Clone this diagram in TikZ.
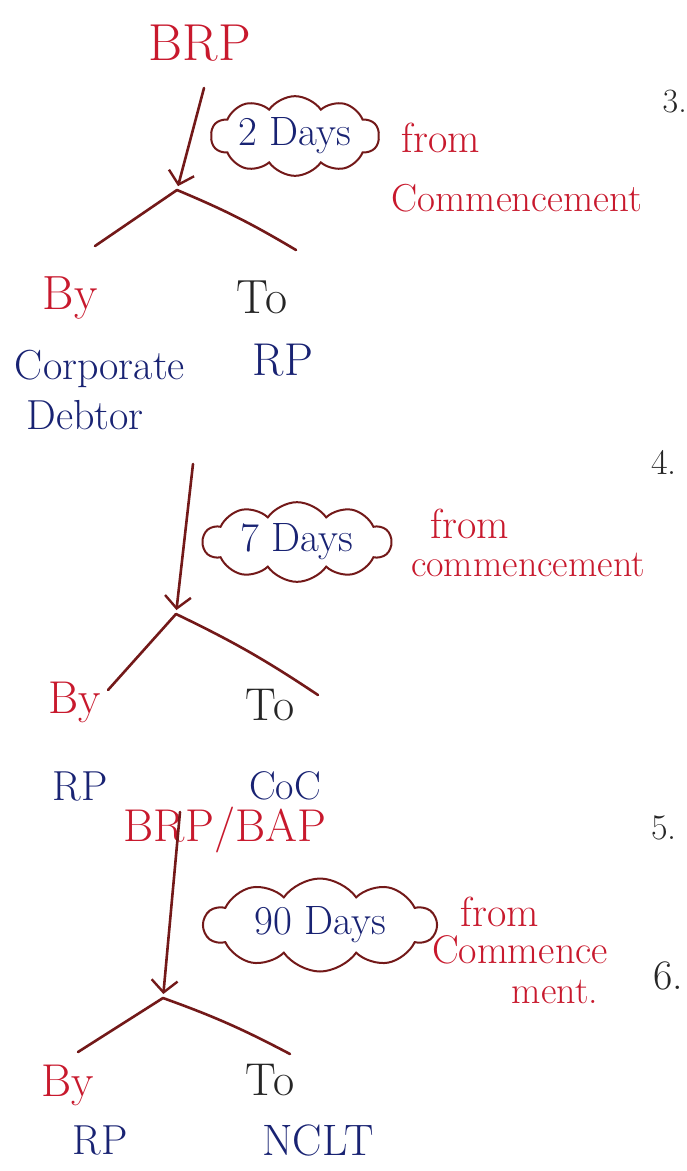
\documentclass[tikz,border=0pt]{standalone}
\usetikzlibrary{arrows.meta,shapes.symbols}

\definecolor{inkred}{RGB}{200,25,45}
\definecolor{inkblue}{RGB}{25,35,115}
\definecolor{inkline}{RGB}{115,25,25}

\begin{document}
\begin{tikzpicture}[x=1pt,y=-1pt,
        fs/.style={font=\fontsize{#1}{#1}\selectfont},
        redtxt/.style={text=inkred,inner sep=2pt},
        bluetxt/.style={text=inkblue,inner sep=2pt},
        blacktxt/.style={text=black!85,inner sep=2pt},
        hand/.style={draw=inkline,line width=2.6pt,line cap=round},
        to/.style={hand,-{Straight Barb[length=12pt,width=26pt,line width=2.4pt]},shorten >=4pt},
        bubble/.style={cloud,cloud puffs=10,cloud puff arc=110,aspect=2.8,draw=inkline,
                       line width=2pt,text=inkblue,inner sep=0pt,fs=41}]

    \fill[white] (0,0) rectangle (687,1171);
    \useasboundingbox (0,0) rectangle (687,1171);

    % -- BRP: 2 days
    \node[redtxt,fs=52] (brp) at (200,43) {BRP};
    \coordinate (top1) at (204,88);
    \coordinate (apex1) at (177,190);
    \coordinate (left1) at (95,246);
    \coordinate (right1) at (296,250);
    \node[bubble,minimum width=168pt,minimum height=66pt] (days1) at (295,136) {2 Days};
    \node[redtxt,fs=42] (from1) at (441,138) {from};
    \node[redtxt,fs=39] (comm1) at (517,198) {Commencement};
    \node[redtxt,fs=48] (by1) at (70,298) {By};
    \node[blacktxt,fs=48] (to1) at (262,297) {To};
    \node[bluetxt,fs=42] (cd1) at (100,369) {Corporate};
    \node[bluetxt,fs=42] (cd2) at (85,415) {Debtor};
    \node[bluetxt,fs=46] (rp1) at (283,360) {RP};
    \node[blacktxt,fs=34,anchor=east,inner sep=0pt] (n3) at (687,102) {3.};

    \draw[to] (top1) -- (apex1);
    \draw[hand] (apex1) -- (left1);
    \draw[hand] (apex1) to[bend left=4] (right1);

    % -- RP: 7 days
    \node[blacktxt,fs=36] (n4) at (664,462) {4.};
    \coordinate (top2) at (193,464);
    \coordinate (apex2) at (176,614);
    \coordinate (left2) at (108,690);
    \coordinate (right2) at (318,695);
    \node[bubble,minimum width=188pt,minimum height=70pt] (days2) at (297,542) {7 Days};
    \node[redtxt,fs=42] (from2) at (470,524) {from};
    \node[redtxt,fs=38] (comm2) at (528,565) {commencement};
    \node[redtxt,fs=46] (by2) at (75,702) {By};
    \node[blacktxt,fs=46] (to2) at (270,705) {To};
    \node[bluetxt,fs=42] (rp2) at (80,786) {RP};
    \node[bluetxt,fs=40] (coc) at (285,786) {CoC};

    \draw[to] (top2) -- (apex2);
    \draw[hand] (apex2) -- (left2);
    \draw[hand] (apex2) to[bend left=4] (right2);

    % -- BRP/BAP: 90 days
    \node[blacktxt,fs=36] (n5) at (664,828) {5.};
    \node[redtxt,fs=46] (brp2) at (225,830) {BRP/BAP};
    \coordinate (top3) at (180,812);
    \coordinate (apex3) at (163,998);
    \coordinate (left3) at (78,1052);
    \coordinate (right3) at (290,1054);
    \node[bubble,minimum width=232pt,minimum height=72pt] (days3) at (320,925) {90 Days};
    \node[redtxt,fs=42] (from3) at (500,912) {from};
    \node[redtxt,fs=40,inner sep=0pt] (comm3) at (520,950) {Commence};
    \node[redtxt,fs=38,inner sep=0pt] (ment) at (555,992) {ment.};
    \node[blacktxt,fs=42] (n6) at (668,976) {6.};
    \node[redtxt,fs=46] (by3) at (68,1085) {By};
    \node[blacktxt,fs=46] (to3) at (270,1080) {To};
    \node[bluetxt,fs=42] (rp3) at (100,1140) {RP};
    \node[bluetxt,fs=44] (nclt) at (318,1140) {NCLT};

    \draw[to] (top3) -- (apex3);
    \draw[hand] (apex3) -- (left3);
    \draw[hand] (apex3) to[bend left=4] (right3);
\end{tikzpicture}
\end{document}
